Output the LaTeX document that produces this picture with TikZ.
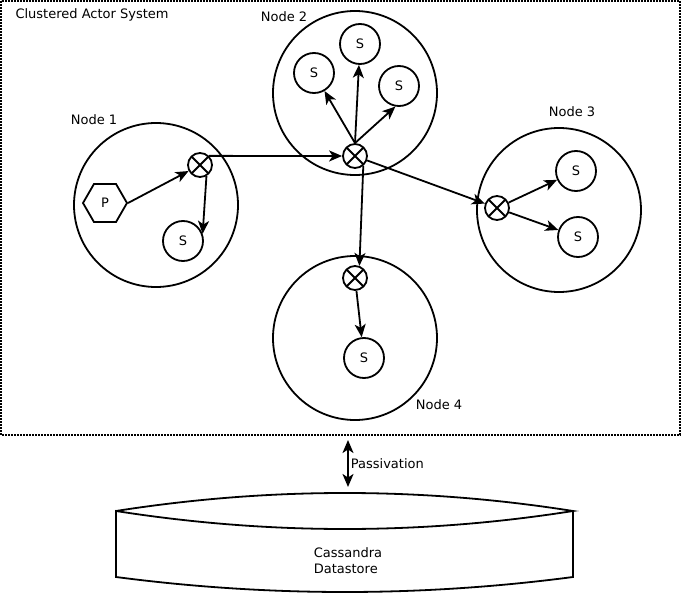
\documentclass[tikz,border=0pt]{standalone}
\usepackage{fontspec}
\setmainfont{DejaVu Sans}
\usetikzlibrary{arrows.meta,shapes.geometric}

\begin{document}
\begin{tikzpicture}[
                x=1pt, y=-1pt,
                every node/.style={font=\fontsize{13}{16}\selectfont},
                host/.style={circle, draw, line width=1.8pt, minimum size=164pt, inner sep=0pt},
                actor/.style={circle, draw, line width=1.8pt, minimum size=40pt, inner sep=0pt},
                proxy/.style={regular polygon, regular polygon sides=6, draw, line width=1.8pt, minimum size=44pt, inner sep=0pt},
                router/.style={circle, draw, line width=1.8pt, minimum size=24pt, inner sep=0pt,
                    path picture={\draw[line width=1.8pt]
                        (path picture bounding box.north west) -- (path picture bounding box.south east)
                        (path picture bounding box.south west) -- (path picture bounding box.north east);}},
                msg/.style={-{Stealth[length=13pt,width=11pt,inset=3.5pt]}, line width=1.8pt}
            ]
                \useasboundingbox (0,0) rectangle (681,594);
                % cluster frame
                \draw[line width=1.5pt, dash pattern=on 2pt off 1pt] (1,1) rectangle (680,435);
                \node[anchor=west] (sys) at (12,15) {Clustered Actor System};
                % cluster nodes
                \node[host] (node1) at (156,205) {};
                \node[host] (node2) at (355,93) {};
                \node[host] (node3) at (559,210) {};
                \node[host] (node4) at (355,338) {};
                \node (lbl1) at (94,120) {Node 1};
                \node (lbl2) at (284,17) {Node 2};
                \node (lbl3) at (572,112) {Node 3};
                \node (lbl4) at (439,405) {Node 4};
                % actors
                \node[proxy] (p1) at (105,203) {P};
                \node[router] (r1) at (200,165) {};
                \node[actor] (s1) at (183,241) {S};
                \node[router] (r2) at (355,156) {};
                \node[actor] (s2a) at (314,73) {S};
                \node[actor] (s2b) at (360,44) {S};
                \node[actor] (s2c) at (399,86) {S};
                \node[router] (r3) at (497,208) {};
                \node[actor] (s3a) at (576,171) {S};
                \node[actor] (s3b) at (578,237) {S};
                \node[router] (r4) at (355,278) {};
                \node[actor] (s4) at (364,358) {S};
                % messages
                \draw[msg] (p1.east) -- (r1);
                \draw[msg] (r1.-60) -- (s1.20);
                \draw[msg] (r1.north east) -- (r2.west);
                \draw[msg] (r2.north) -- (s2a);
                \draw[msg] (r2.north) -- (s2b);
                \draw[msg] (r2.north) -- (s2c.-100);
                \draw[msg] (r2) -- (r3);
                \draw[msg] (r2.-50) -- (r4.70);
                \draw[msg] (r3) -- (s3a);
                \draw[msg] (r3) -- (s3b);
                \draw[msg] (r4) -- (s4);
                % datastore
                \draw[line width=1.8pt] (116,511) .. controls (269,487) and (421,487) .. (573,511)
                    .. controls (421,535) and (269,535) .. (116,511) -- (116,577)
                    .. controls (269,597) and (421,597) .. (573,577) -- (573,511);
                \node[align=left] (db) at (348,561) {Cassandra\\Datastore};
                \coordinate (passtop) at (348,440);
                \coordinate (passbot) at (348,487);
                \draw[{Stealth[length=13pt,width=11pt,inset=3.5pt]}-{Stealth[length=13pt,width=11pt,inset=3.5pt]}, line width=1.8pt]
                    (passtop) -- (passbot) node[midway, right, inner sep=2pt] (pass) {Passivation};
            \end{tikzpicture}
\end{document}
